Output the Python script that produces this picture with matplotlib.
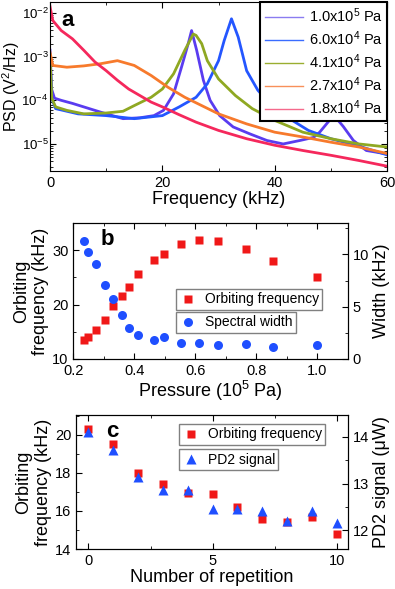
import numpy as np
import matplotlib
matplotlib.use('Agg')
import matplotlib.pyplot as plt
from matplotlib.ticker import MultipleLocator, LogLocator, NullFormatter
from matplotlib.lines import Line2D

plt.rcParams['font.family'] = ['Liberation Sans', 'DejaVu Sans']
plt.rcParams['mathtext.fontset'] = 'custom'
plt.rcParams['mathtext.rm'] = 'Liberation Sans'
plt.rcParams['mathtext.it'] = 'Liberation Sans:italic'
plt.rcParams['mathtext.bf'] = 'Liberation Sans:bold'
plt.rcParams['xtick.direction'] = 'in'
plt.rcParams['ytick.direction'] = 'in'

# ---- panel a: PSD spectra (log10 of PSD) ----
spec_labels = ['1.0x10$^5$ Pa', '6.0x10$^4$ Pa', '4.1x10$^4$ Pa',
               '2.7x10$^4$ Pa', '1.8x10$^4$ Pa']
spec_colors = ['#5a3cf0', '#2456ff', '#8fa822', '#f77a2c', '#f5285c']
legend_colors = ['#8a7cf0', '#3a6cff', '#9aae30', '#f8905a', '#f56a8c']

f_100 = [0, 0.3, 0.8, 2, 4, 6, 9, 13, 16, 18.5, 20.2, 22, 23.4, 24.6, 25.2, 26.1,
         27.3, 28.5, 30.2, 32.6, 35.6, 38.6, 41.5, 44.5, 46.9, 48, 49.8, 50.7,
         52.2, 54, 56.3, 60]
l_100 = [-2.85, -3.75, -3.95, -4.0, -4.07, -4.15, -4.27, -4.42, -4.4, -4.35, -4.23,
         -3.85, -3.24, -2.7, -2.4, -2.85, -3.54, -4.0, -4.35, -4.61, -4.77, -4.92,
         -5.0, -4.92, -4.85, -4.73, -4.45, -4.37, -4.6, -4.92, -5.15, -5.23]

f_60 = [0, 0.3, 1, 5, 10, 15, 20, 23, 26, 28, 30, 31, 32.3, 33.5, 35, 37, 40, 43,
        46, 50, 55, 60]
l_60 = [-3.05, -3.95, -4.19, -4.31, -4.35, -4.42, -4.35, -4.15, -3.93, -3.62, -3.09,
        -2.63, -2.13, -2.55, -3.32, -3.77, -4.19, -4.45, -4.69, -4.88, -5.05, -5.25]

f_41 = [0, 0.3, 1, 3, 6, 10, 13, 15, 18, 20, 22, 24, 25.5, 26, 27, 28, 30, 33, 36,
        40, 45, 50, 55, 60]
l_41 = [-2.95, -3.95, -4.15, -4.23, -4.31, -4.29, -4.25, -4.12, -3.93, -3.74, -3.39,
        -2.85, -2.48, -2.51, -2.7, -3.09, -3.51, -3.89, -4.19, -4.46, -4.73, -4.88,
        -5.0, -5.07]

f_27 = [0, 0.5, 3, 6, 9, 12, 15, 18, 21, 24, 27, 30, 35, 40, 45, 50, 55, 60]
l_27 = [-2.9, -3.2, -3.24, -3.21, -3.16, -3.09, -3.2, -3.43, -3.7, -3.93, -4.12,
        -4.31, -4.54, -4.73, -4.84, -4.96, -5.07, -5.22]

f_18 = [0, 0.5, 2, 4, 6, 8, 10, 12, 14, 16, 18, 20, 23, 26, 30, 35, 40, 45, 50,
        55, 60]
l_18 = [-1.85, -2.17, -2.4, -2.59, -2.85, -3.12, -3.32, -3.54, -3.74, -3.89, -4.04,
        -4.15, -4.33, -4.5, -4.69, -4.88, -5.03, -5.15, -5.26, -5.38, -5.51]

spec_f = [f_100, f_60, f_41, f_27, f_18]
spec_l = [l_100, l_60, l_41, l_27, l_18]

# ---- panel b: orbiting frequency and spectral width vs pressure ----
pressure = [0.236, 0.249, 0.274, 0.303, 0.331, 0.361, 0.383, 0.412, 0.463, 0.497,
            0.554, 0.613, 0.673, 0.766, 0.855, 1.0]
orbit_freq_b = [13.5, 14.0, 15.4, 17.1, 19.8, 21.6, 23.2, 25.6, 28.2, 29.3, 31.2,
                31.95, 31.7, 30.2, 28.0, 25.1]
width_b = [11.3, 10.2, 9.1, 7.1, 5.7, 4.2, 3.0, 2.3, 1.85, 2.1, 1.5, 1.5, 1.3, 1.4,
           1.1, 1.3]

# ---- panel c: repetition ----
repetition = [0, 1, 2, 3, 4, 5, 6, 7, 8, 9, 10]
orbit_freq_c = [20.31, 19.52, 17.99, 17.41, 16.94, 16.90, 16.2, 15.57, 15.4, 15.68,
                14.79]
pd2_signal = [14.1, 13.72, 13.14, 12.87, 12.87, 12.46, 12.45, 12.42, 12.2, 12.42,
              12.16]

fig = plt.figure(figsize=(3.95, 5.89), dpi=100)

red = '#f01818'
blue = '#1f4fff'
tick_fs = 10.5
lab_fs = 13

# panel a
ax = fig.add_axes([0.1266, 0.7097, 0.8534, 0.2869])
for fr, lv, c, lab in zip(spec_f, spec_l, spec_colors, spec_labels):
    ax.semilogy(fr, 10 ** np.array(lv), color=c, lw=2.0, label=lab)
ax.set_xlim(0, 60)
ax.set_ylim(2.4e-6, 1.8e-2)
ax.xaxis.set_major_locator(MultipleLocator(20))
ax.xaxis.set_minor_locator(MultipleLocator(10))
ax.yaxis.set_major_locator(LogLocator(base=10, numticks=10))
ax.yaxis.set_minor_locator(LogLocator(base=10, subs=np.arange(2, 10), numticks=10))
ax.yaxis.set_minor_formatter(NullFormatter())
ax.tick_params(which='both', top=True, right=True, labelsize=tick_fs)
ax.tick_params(axis='y', pad=1, labelsize=9.5)
ax.tick_params(which='major', length=4)
ax.tick_params(which='minor', length=2.5)
ax.set_xlabel('Frequency (kHz)', fontsize=lab_fs, labelpad=1)
ax.set_ylabel('PSD (V$^2$/Hz)', fontsize=11.5)
ax.yaxis.set_label_coords(-0.084, 0.5)
handles = [Line2D([], [], color=c, lw=1) for c in legend_colors]
leg = ax.legend(handles, spec_labels, loc='upper right', fontsize=10.5,
                frameon=True, fancybox=False, edgecolor='black', framealpha=1,
                borderaxespad=0, handlelength=2.6, labelspacing=0.3,
                borderpad=0.3, handletextpad=0.4)
leg.get_frame().set_linewidth(1.5)
ax.text(0.035, 0.955, 'a', transform=ax.transAxes, fontsize=16,
        fontweight='bold', va='top')

# panel b
bx = fig.add_axes([0.1857, 0.3905, 0.6953, 0.2309])
bx2 = bx.twinx()
bx.plot(pressure, orbit_freq_b, 's', color=red, ms=5.5, mec='none')
bx2.plot(pressure, width_b, 'o', color=blue, ms=6.5, mec='none')
bx.set_xlim(0.2, 1.1)
bx.set_ylim(10, 35)
bx2.set_ylim(0, 13)
bx.xaxis.set_major_locator(MultipleLocator(0.2))
bx.xaxis.set_minor_locator(MultipleLocator(0.1))
bx.yaxis.set_major_locator(MultipleLocator(10))
bx.yaxis.set_minor_locator(MultipleLocator(5))
bx2.yaxis.set_major_locator(MultipleLocator(5))
bx2.yaxis.set_minor_locator(MultipleLocator(2.5))
bx.tick_params(which='both', top=True, labelsize=tick_fs)
bx2.tick_params(which='both', labelsize=tick_fs)
for a in (bx, bx2):
    a.tick_params(which='major', length=4)
    a.tick_params(which='minor', length=2.5)
bx.set_xlabel('Pressure (10$^5$ Pa)', fontsize=lab_fs, labelpad=1)
bx.set_ylabel('Orbiting\nfrequency (kHz)', fontsize=lab_fs, labelpad=2)
bx2.set_ylabel('Width (kHz)', fontsize=lab_fs, labelpad=3)
h1 = Line2D([], [], marker='s', color=red, ls='none', ms=5.5, mec='none')
h2 = Line2D([], [], marker='o', color=blue, ls='none', ms=6.5, mec='none')
lg_kw = dict(fontsize=10, frameon=True, fancybox=False, edgecolor='#808080',
             framealpha=1, borderaxespad=0, handlelength=1.2, borderpad=0.25,
             handletextpad=0.6, loc='upper left')
l1 = bx2.legend([h1], ['Orbiting frequency'], bbox_to_anchor=(0.374, 0.515), **lg_kw)
bx2.add_artist(l1)
bx2.legend([h2], ['Spectral width'], bbox_to_anchor=(0.374, 0.346), **lg_kw)
bx.text(0.1, 0.955, 'b', transform=bx.transAxes, fontsize=16,
        fontweight='bold', va='top')

# panel c
cx = fig.add_axes([0.1924, 0.0679, 0.6886, 0.2275])
cx2 = cx.twinx()
cx.plot(repetition, orbit_freq_c, 's', color=red, ms=6, mec='none')
cx2.plot(repetition, pd2_signal, '^', color=blue, ms=7, mec='none')
cx.set_xlim(-0.5, 10.45)
cx.set_ylim(14, 21.05)
cx2.set_ylim(11.6, 14.47)
cx.xaxis.set_major_locator(MultipleLocator(5))
cx.xaxis.set_minor_locator(MultipleLocator(2.5))
cx.yaxis.set_major_locator(MultipleLocator(2))
cx.yaxis.set_minor_locator(MultipleLocator(1))
cx2.yaxis.set_major_locator(MultipleLocator(1))
cx2.yaxis.set_minor_locator(MultipleLocator(0.5))
cx.tick_params(which='both', top=True, labelsize=tick_fs)
cx2.tick_params(which='both', labelsize=tick_fs)
for a in (cx, cx2):
    a.tick_params(which='major', length=4)
    a.tick_params(which='minor', length=2.5)
cx.set_xlabel('Number of repetition', fontsize=lab_fs, labelpad=1)
cx.set_ylabel('Orbiting\nfrequency (kHz)', fontsize=lab_fs, labelpad=2)
cx2.set_ylabel('PD2 signal (\u03bcW)', fontsize=lab_fs, labelpad=3)
h3 = Line2D([], [], marker='s', color=red, ls='none', ms=6, mec='none')
h4 = Line2D([], [], marker='^', color=blue, ls='none', ms=7, mec='none')
l3 = cx2.legend([h3], ['Orbiting frequency'], bbox_to_anchor=(0.379, 0.933), **lg_kw)
cx2.add_artist(l3)
cx2.legend([h4], ['PD2 signal'], bbox_to_anchor=(0.379, 0.746), **lg_kw)
cx.text(0.11, 0.955, 'c', transform=cx.transAxes, fontsize=16,
        fontweight='bold', va='top')

fig.savefig('out.png', dpi=100)
